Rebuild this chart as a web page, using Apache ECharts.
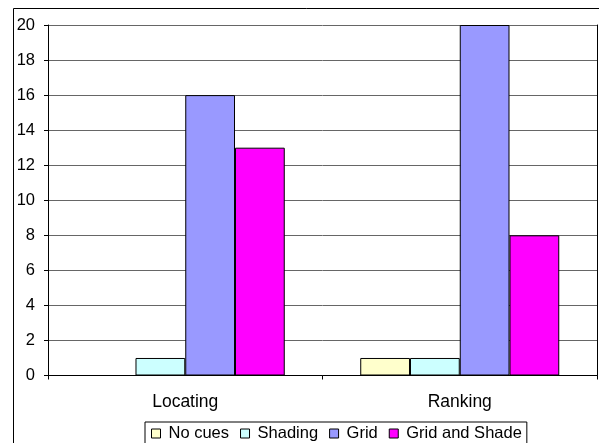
<!DOCTYPE html>
<html>
<head>
<meta charset="utf-8">
<script src="https://cdn.jsdelivr.net/npm/echarts@6/dist/echarts.min.js"></script>
<style>
  html, body { margin: 0; padding: 0; background: #fff; }
  #chart { width: 599px; height: 443px; }
</style>
</head>
<body>
<div id="chart"></div>
<script>
// Task categories and the count recorded for each cue condition
const categories = ['Locating', 'Ranking'];
const seriesNames = ['No cues', 'Shading', 'Grid', 'Grid and Shade'];
const noCues = [0, 1];
const shading = [1, 1];
const grid = [16, 20];
const gridAndShade = [13, 8];
const yTicks = [0, 2, 4, 6, 8, 10, 12, 14, 16, 18, 20];

const colors = ['#FFFFCC', '#CCFFFF', '#9999FF', '#FF00FF'];
const values = [noCues, shading, grid, gridAndShade];
const font = 'Liberation Sans, Arial, sans-serif';

const chart = echarts.init(document.getElementById('chart'), null, { renderer: 'canvas' });

chart.setOption({
  animation: false,
  backgroundColor: '#ffffff',
  color: colors,
  textStyle: { fontFamily: font },
  grid: { left: 48, top: 25, right: 2, bottom: 67.5, containLabel: false },
  graphic: [{
    type: 'rect',
    shape: { x: 13.5, y: 8.5, width: 620, height: 460 },
    style: { fill: 'none', stroke: '#000', lineWidth: 1 },
    silent: true
  }],
  legend: {
    data: seriesNames,
    left: 145,
    top: 422,
    icon: 'rect',
    itemWidth: 9,
    itemHeight: 9,
    itemGap: 11,
    padding: [3, 5, 3, 6],
    borderColor: '#000',
    borderWidth: 1,
    backgroundColor: '#fff',
    itemStyle: { borderColor: '#000', borderWidth: 1 },
    textStyle: { fontFamily: font, fontSize: 16.5, color: '#000', padding: [0, 0, 0, 3] }
  },
  xAxis: {
    type: 'category',
    data: categories,
    axisLine: { lineStyle: { color: '#000', width: 1 } },
    axisTick: { show: true, length: 4, interval: 0, lineStyle: { color: '#000' } },
    axisLabel: { fontSize: 17.5, color: '#000', margin: 18, fontFamily: font }
  },
  yAxis: [{
    type: 'value',
    min: 0,
    max: yTicks[yTicks.length - 1],
    interval: yTicks[1] - yTicks[0],
    axisLine: { show: true, lineStyle: { color: '#000', width: 1 } },
    axisTick: { show: true, length: 4, lineStyle: { color: '#000' } },
    axisLabel: { fontSize: 16.5, color: '#000', margin: 13, fontFamily: font },
    splitLine: { show: true, lineStyle: { color: '#666', width: 1 } }
  }, {
    type: 'value',
    position: 'right',
    min: 0,
    max: yTicks[yTicks.length - 1],
    interval: yTicks[1] - yTicks[0],
    axisLine: { show: true, lineStyle: { color: '#000', width: 1 } },
    axisTick: { show: false },
    axisLabel: { show: false },
    splitLine: { show: false }
  }],
  series: seriesNames.map((name, i) => ({
    name: name,
    type: 'bar',
    data: values[i],
    barGap: '0%',
    barCategoryGap: '27.5%',
    itemStyle: { color: colors[i], borderColor: '#000', borderWidth: 1 }
  }))
});
</script>
</body>
</html>
